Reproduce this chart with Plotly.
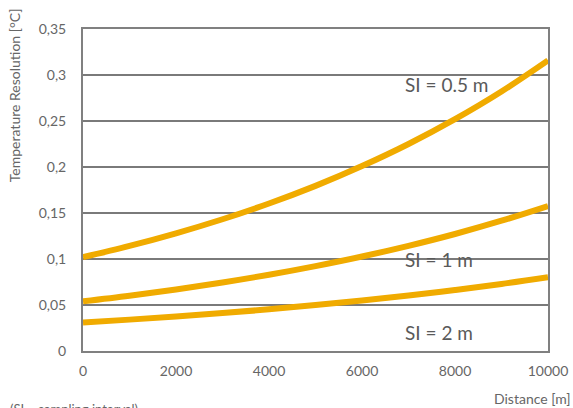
import plotly.graph_objects as go

# Distance along the fibre [m]
distance = [0, 1000, 2000, 3000, 4000, 5000, 6000, 7000, 8000, 9000, 10000]

# Temperature resolution [°C] per sampling interval
res_si_05 = [0.1020, 0.1142, 0.1279, 0.1432, 0.1603, 0.1795, 0.2010, 0.2250, 0.2520, 0.2821, 0.3159]
res_si_1 = [0.0540, 0.0601, 0.0669, 0.0745, 0.0829, 0.0923, 0.1027, 0.1143, 0.1272, 0.1416, 0.1576]
res_si_2 = [0.0310, 0.0341, 0.0375, 0.0412, 0.0453, 0.0499, 0.0548, 0.0603, 0.0663, 0.0729, 0.0802]

series_names = ["SI = 0.5 m", "SI = 1 m", "SI = 2 m"]
series_values = [res_si_05, res_si_1, res_si_2]
label_y = [0.290, 0.100, 0.0196]

x_ticks = [0, 2000, 4000, 6000, 8000, 10000]
y_ticks = [0, 0.05, 0.1, 0.15, 0.2, 0.25, 0.3, 0.35]

LINE_COLOR = "#f0ab00"
GRID_COLOR = "#7a7a7a"
TEXT_COLOR = "#666666"
FONT = "Lato, Open Sans, sans-serif"

fig = go.Figure()
for name, values in zip(series_names, series_values):
    fig.add_trace(go.Scatter(
        x=distance, y=values, mode="lines", name=name,
        line=dict(color=LINE_COLOR, width=6, shape="spline"),
        showlegend=False, hoverinfo="skip",
    ))

# Curve labels placed inside the plot
for name, ly in zip(series_names, label_y):
    fig.add_annotation(
        x=6890, y=ly, xref="x", yref="y", text=name,
        showarrow=False, xanchor="left", yanchor="middle",
        font=dict(family=FONT, size=19, color="#5a5a5a"),
    )

# Axis titles and footnote
fig.add_annotation(
    x=-0.148, y=0.795, xref="paper", yref="paper", text="Temperature Resolution [°C]",
    showarrow=False, textangle=-90, xanchor="center", yanchor="middle",
    font=dict(family=FONT, size=14, color=TEXT_COLOR),
)
fig.add_annotation(
    x=1.054, y=-0.146, xref="paper", yref="paper", text="Distance [m]",
    showarrow=False, xanchor="right", yanchor="middle",
    font=dict(family=FONT, size=14, color=TEXT_COLOR),
)
fig.add_annotation(
    x=-0.161, y=-0.148, xref="paper", yref="paper", text="(SI = sampling interval)",
    showarrow=False, xanchor="left", yanchor="top",
    font=dict(family=FONT, size=13, color=TEXT_COLOR),
)

fig.update_layout(
    width=573, height=408,
    margin=dict(l=83, r=25, t=29, b=57, autoexpand=False),
    paper_bgcolor="white", plot_bgcolor="white",
    separators=",.",
    font=dict(family=FONT, size=13, color=TEXT_COLOR),
    xaxis=dict(
        range=[0, 10000], tickvals=x_ticks, tickformat="d",
        showgrid=False, zeroline=False, automargin=False,
        showline=True, mirror=True, linecolor="#808080", linewidth=2,
        ticks="", ticklabelstandoff=6,
        tickfont=dict(family=FONT, size=14, color=TEXT_COLOR),
    ),
    yaxis=dict(
        range=[0, 0.35], tickvals=y_ticks, automargin=False,
        showgrid=True, gridcolor=GRID_COLOR, gridwidth=1.5, zeroline=False,
        showline=True, mirror=True, linecolor="#808080", linewidth=2,
        ticks="", ticklabelstandoff=12,
        tickfont=dict(family=FONT, size=14, color=TEXT_COLOR),
    ),
)

fig.write_html("out.html")
